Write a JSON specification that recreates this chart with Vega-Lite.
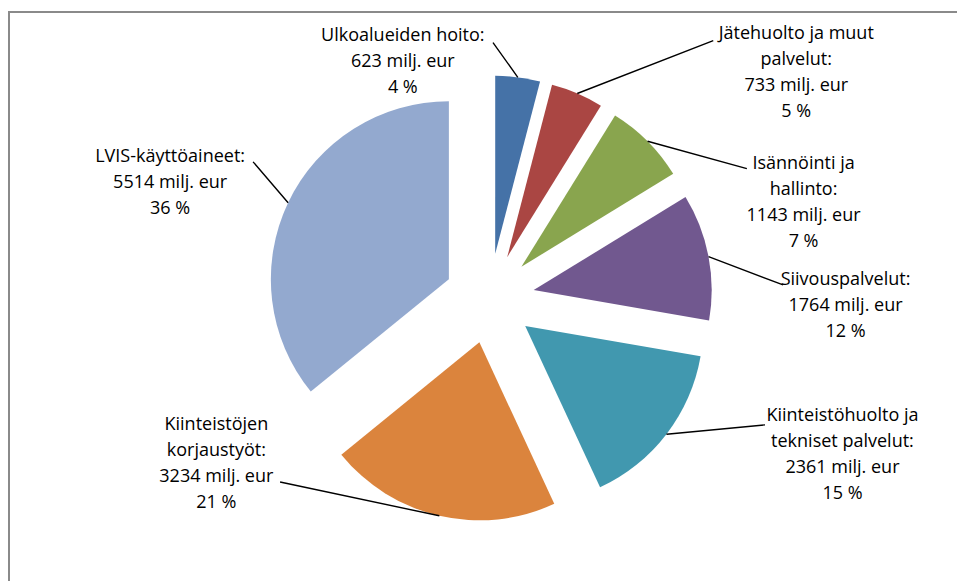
{
  "$schema": "https://vega.github.io/schema/vega-lite/v6.json",
  "width": 957,
  "height": 581,
  "autosize": {"type": "fit", "contains": "padding"},
  "padding": {"left": 8, "top": 11, "right": -14, "bottom": -5},
  "background": "white",
  "config": {"view": {"stroke": null}},
  "data": {
    "values": [
      {"category": "Ulkoalueiden hoito", "value": 623, "label": "Ulkoalueiden hoito:\n623 milj. eur\n4 %"},
      {"category": "Jätehuolto ja muut palvelut", "value": 733, "label": "Jätehuolto ja muut\npalvelut:\n733 milj. eur\n5 %"},
      {"category": "Isännöinti ja hallinto", "value": 1143, "label": "Isännöinti ja\nhallinto:\n1143 milj. eur\n7 %"},
      {"category": "Siivouspalvelut", "value": 1764, "label": "Siivouspalvelut:\n1764 milj. eur\n12 %"},
      {"category": "Kiinteistöhuolto ja tekniset palvelut", "value": 2361, "label": "Kiinteistöhuolto ja\ntekniset palvelut:\n2361 milj. eur\n15 %"},
      {"category": "Kiinteistöjen korjaustyöt", "value": 3234, "label": "Kiinteistöjen\nkorjaustyöt:\n3234 milj. eur\n21 %"},
      {"category": "LVIS-käyttöaineet", "value": 5514, "label": "LVIS-käyttöaineet:\n5514 milj. eur\n36 %"}
    ]
  },
  "layer": [
    {
      "data": {"values": [{"frame": 1}]},
      "mark": {"type": "rect", "filled": false, "stroke": "#8a8a8a", "strokeWidth": 2},
      "encoding": {}
    },
    {
      "mark": {
        "type": "arc",
        "radius": 178,
        "xOffset": {"expr": "45*sin((scale('theta', datum.value_start)+scale('theta', datum.value_end))/2)"},
        "yOffset": {"expr": "-45*cos((scale('theta', datum.value_start)+scale('theta', datum.value_end))/2)"}
      },
      "encoding": {
        "theta": {"field": "value", "type": "quantitative", "stack": true},
        "order": {"field": "value", "type": "quantitative", "sort": "ascending"},
        "color": {
          "field": "category",
          "type": "nominal",
          "scale": {
            "domain": ["Ulkoalueiden hoito", "Jätehuolto ja muut palvelut", "Isännöinti ja hallinto", "Siivouspalvelut", "Kiinteistöhuolto ja tekniset palvelut", "Kiinteistöjen korjaustyöt", "LVIS-käyttöaineet"],
            "range": ["#4572A7", "#AA4643", "#89A54E", "#71588F", "#4198AF", "#DB843D", "#93A9CF"]
          },
          "legend": null
        }
      }
    },
    {
      "mark": {
        "type": "arc",
        "filled": false,
        "stroke": "#000000",
        "strokeWidth": 1.4,
        "padAngle": 3.1,
        "radius2": 0,
        "radius": {"expr": "datum.value==623?42.7:datum.value==733?145.9:datum.value==1143?103:datum.value==1764?79.7:datum.value==2361?99:datum.value==3234?162.8:53.8"},
        "thetaOffset": {"expr": "datum.value==623?-0.747:datum.value==733?0.796:datum.value==1143?1.052:datum.value==1764?0.552:datum.value==2361?-0.749:datum.value==3234?1.553:0.419"},
        "xOffset": {"expr": "223*sin((scale('theta', datum.value_start)+scale('theta', datum.value_end))/2)"},
        "yOffset": {"expr": "-223*cos((scale('theta', datum.value_start)+scale('theta', datum.value_end))/2)"}
      },
      "encoding": {
        "theta": {"field": "value", "type": "quantitative", "stack": true},
        "order": {"field": "value", "type": "quantitative", "sort": "ascending"}
      }
    },
    {
      "mark": {
        "type": "text",
        "radius": 223,
        "font": "Open Sans",
        "fontSize": 18,
        "lineHeight": 26,
        "lineBreak": "\n",
        "align": "center",
        "baseline": "middle",
        "color": "#000000",
        "dx": {"expr": "datum.value==623?-115:datum.value==733?219:datum.value==1143?156:datum.value==1764?137:datum.value==2361?176:datum.value==3234?-223:-118"},
        "dy": {"expr": "datum.value==623?-41:datum.value==733?-59:datum.value==1143?23:datum.value==1764?23:datum.value==2361?-18:datum.value==3234?-91:-46"}
      },
      "encoding": {
        "theta": {"field": "value", "type": "quantitative", "stack": true},
        "order": {"field": "value", "type": "quantitative", "sort": "ascending"},
        "text": {"field": "label", "type": "nominal"}
      }
    }
  ]
}
